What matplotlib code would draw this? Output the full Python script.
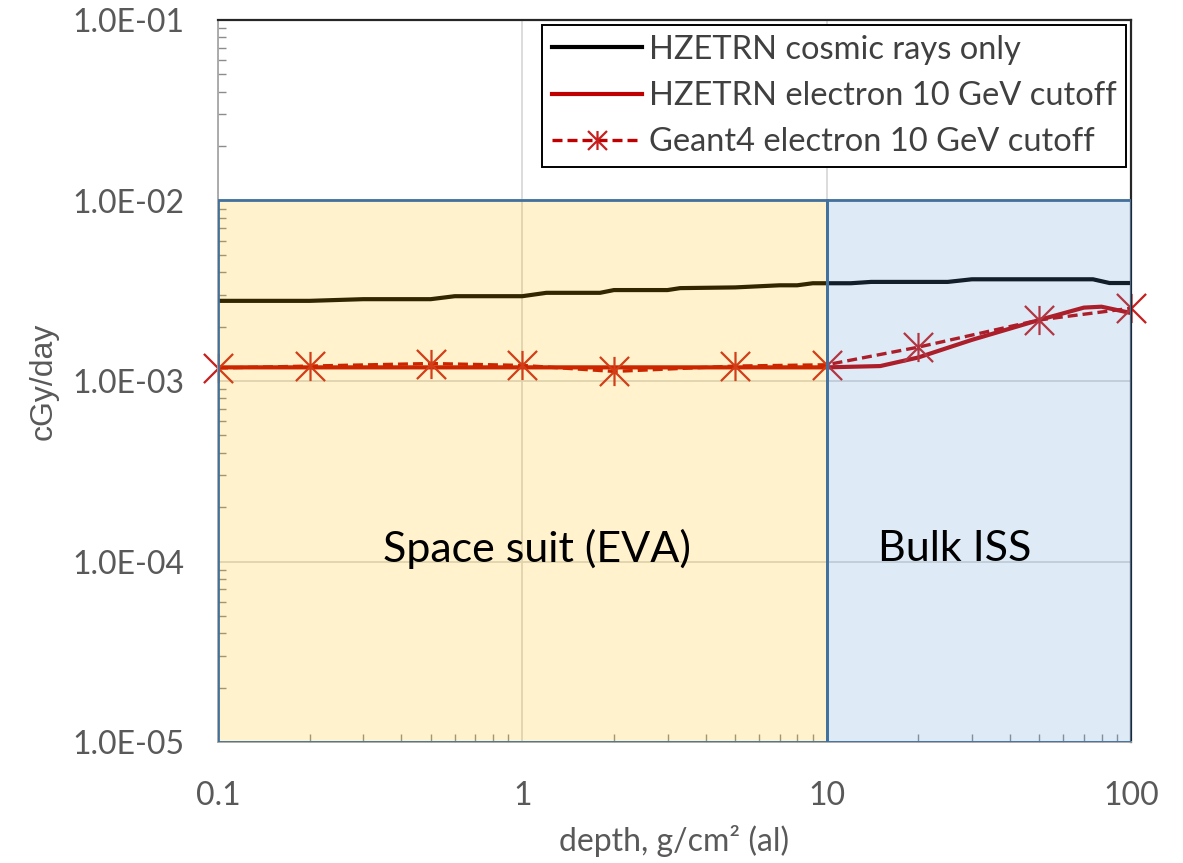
import matplotlib
matplotlib.use("Agg")
import matplotlib.pyplot as plt
from matplotlib.patches import Rectangle
from matplotlib.path import Path
from matplotlib.ticker import FixedLocator, LogLocator, NullFormatter

# Data
cosmic_depth = [0.1, 0.2, 0.3, 0.5, 0.6, 1.0, 1.2, 1.8, 2.0, 3.0, 3.3, 5.0,
                7.0, 8.0, 9.0, 12.0, 14.0, 25.0, 30.0, 75.0, 85.0, 100.0]
cosmic_dose = [2.78e-3, 2.78e-3, 2.84e-3, 2.84e-3, 2.95e-3, 2.95e-3, 3.08e-3,
               3.08e-3, 3.19e-3, 3.19e-3, 3.27e-3, 3.30e-3, 3.39e-3, 3.39e-3,
               3.48e-3, 3.48e-3, 3.54e-3, 3.54e-3, 3.66e-3, 3.66e-3, 3.49e-3,
               3.49e-3]

hz_depth = [0.1, 0.2, 0.5, 1, 2, 5, 10, 15, 20, 30, 50, 70, 80, 100]
hz_dose = [1.19e-3, 1.19e-3, 1.19e-3, 1.19e-3, 1.19e-3, 1.19e-3, 1.19e-3,
           1.21e-3, 1.35e-3, 1.69e-3, 2.18e-3, 2.55e-3, 2.58e-3, 2.38e-3]

g4_depth = [0.1, 0.2, 0.5, 1, 2, 5, 10, 20, 50, 100]
g4_dose = [1.18e-3, 1.21e-3, 1.25e-3, 1.22e-3, 1.13e-3, 1.21e-3, 1.23e-3,
           1.54e-3, 2.18e-3, 2.53e-3]

x_ticks = [0.1, 1, 10, 100]
x_labels = ["0.1", "1", "10", "100"]
y_ticks = [1e-5, 1e-4, 1e-3, 1e-2, 1e-1]
y_labels = ["1.0E-05", "1.0E-04", "1.0E-03", "1.0E-02", "1.0E-01"]

label_names = ["HZETRN cosmic rays only",
               "HZETRN electron 10 GeV cutoff",
               "Geant4 electron 10 GeV cutoff"]

FONT = ["Lato", "DejaVu Sans"]
TXT = "#595959"
RED = "#C00000"

# X with a vertical bar
star = Path([(-1, -1), (1, 1), (-1, 1), (1, -1), (0, -1), (0, 1)],
            [Path.MOVETO, Path.LINETO, Path.MOVETO, Path.LINETO,
             Path.MOVETO, Path.LINETO])

fig = plt.figure(figsize=(11.83, 8.63), dpi=100)
ax = fig.add_axes([218 / 1183, 1 - 742 / 863, 913 / 1183, 722 / 863])

ax.set_xscale("log")
ax.set_yscale("log")
ax.set_xlim(0.1, 100)
ax.set_ylim(1e-5, 1e-1)

ax.plot(cosmic_depth, cosmic_dose, color="black", lw=3.0, zorder=2,
        label=label_names[0])
ax.plot(hz_depth, hz_dose, color=RED, lw=3.0, zorder=2,
        label=label_names[1])
ax.plot(g4_depth, g4_dose, color=RED, lw=2.4, ls=(0, (3, 1.5)),
        marker=star, markersize=21, markeredgewidth=1.6,
        markeredgecolor="#C81E1E", zorder=2, clip_on=False,
        label=label_names[2])

# shaded regions
ax.add_patch(Rectangle((0.1, 1e-5), 10 - 0.1, 1e-2 - 1e-5,
                       facecolor=(1.0, 0.753, 0.0, 0.2),
                       edgecolor="#41719C", lw=2.0, zorder=3))
ax.add_patch(Rectangle((10, 1e-5), 100 - 10, 1e-2 - 1e-5,
                       facecolor=(0.357, 0.608, 0.835, 0.2),
                       edgecolor="#41719C", lw=2.0, zorder=3))

ax.text(0.349, 0.268, "Space suit (EVA)", transform=ax.transAxes,
        ha="center", va="center", fontsize=31, family=FONT, zorder=4)
ax.text(0.807, 0.268, "Bulk ISS", transform=ax.transAxes,
        ha="center", va="center", fontsize=31, family=FONT, zorder=4)

# axes / ticks
ax.xaxis.set_major_locator(FixedLocator(x_ticks))
ax.set_xticklabels(x_labels)
ax.yaxis.set_major_locator(FixedLocator(y_ticks))
ax.set_yticklabels(y_labels)
ax.xaxis.set_minor_locator(LogLocator(base=10, subs=range(2, 10)))
ax.yaxis.set_minor_locator(LogLocator(base=10, subs=range(2, 10)))
ax.xaxis.set_minor_formatter(NullFormatter())
ax.yaxis.set_minor_formatter(NullFormatter())

ax.tick_params(which="major", length=0, labelsize=23, labelcolor=TXT)
ax.tick_params(axis="y", which="major", pad=24)
ax.tick_params(axis="x", which="major", pad=28)
ax.tick_params(which="minor", direction="in", length=6, width=1,
               color="#8C8C8C")
for lab in ax.get_xticklabels() + ax.get_yticklabels():
    lab.set_family(FONT)

ax.grid(True, which="major", color="#D9D9D9", lw=1.3, zorder=0)
ax.set_axisbelow(True)

for side in ["top", "right"]:
    ax.spines[side].set_color("#262626")
    ax.spines[side].set_linewidth(1.6)
for side in ["left", "bottom"]:
    ax.spines[side].set_color("#A6A6A6")
    ax.spines[side].set_linewidth(1.3)

ax.set_xlabel("depth, g/cm² (al)", fontsize=23, color=TXT, family=FONT,
              labelpad=10)
ax.set_ylabel("cGy/day", fontsize=23, color=TXT,
              family=["Liberation Sans", "DejaVu Sans"], labelpad=10)

leg = ax.legend(loc="upper right", frameon=True,
                fancybox=False, edgecolor="black", framealpha=1,
                borderaxespad=0.15, handlelength=2.75, handletextpad=0.2,
                labelspacing=0.5, borderpad=0.3, markerscale=0.65,
                prop={"family": FONT, "size": 23.5})
leg.get_frame().set_linewidth(1.4)
for t in leg.get_texts():
    t.set_color("#404040")

fig.savefig("out.png", dpi=100)
